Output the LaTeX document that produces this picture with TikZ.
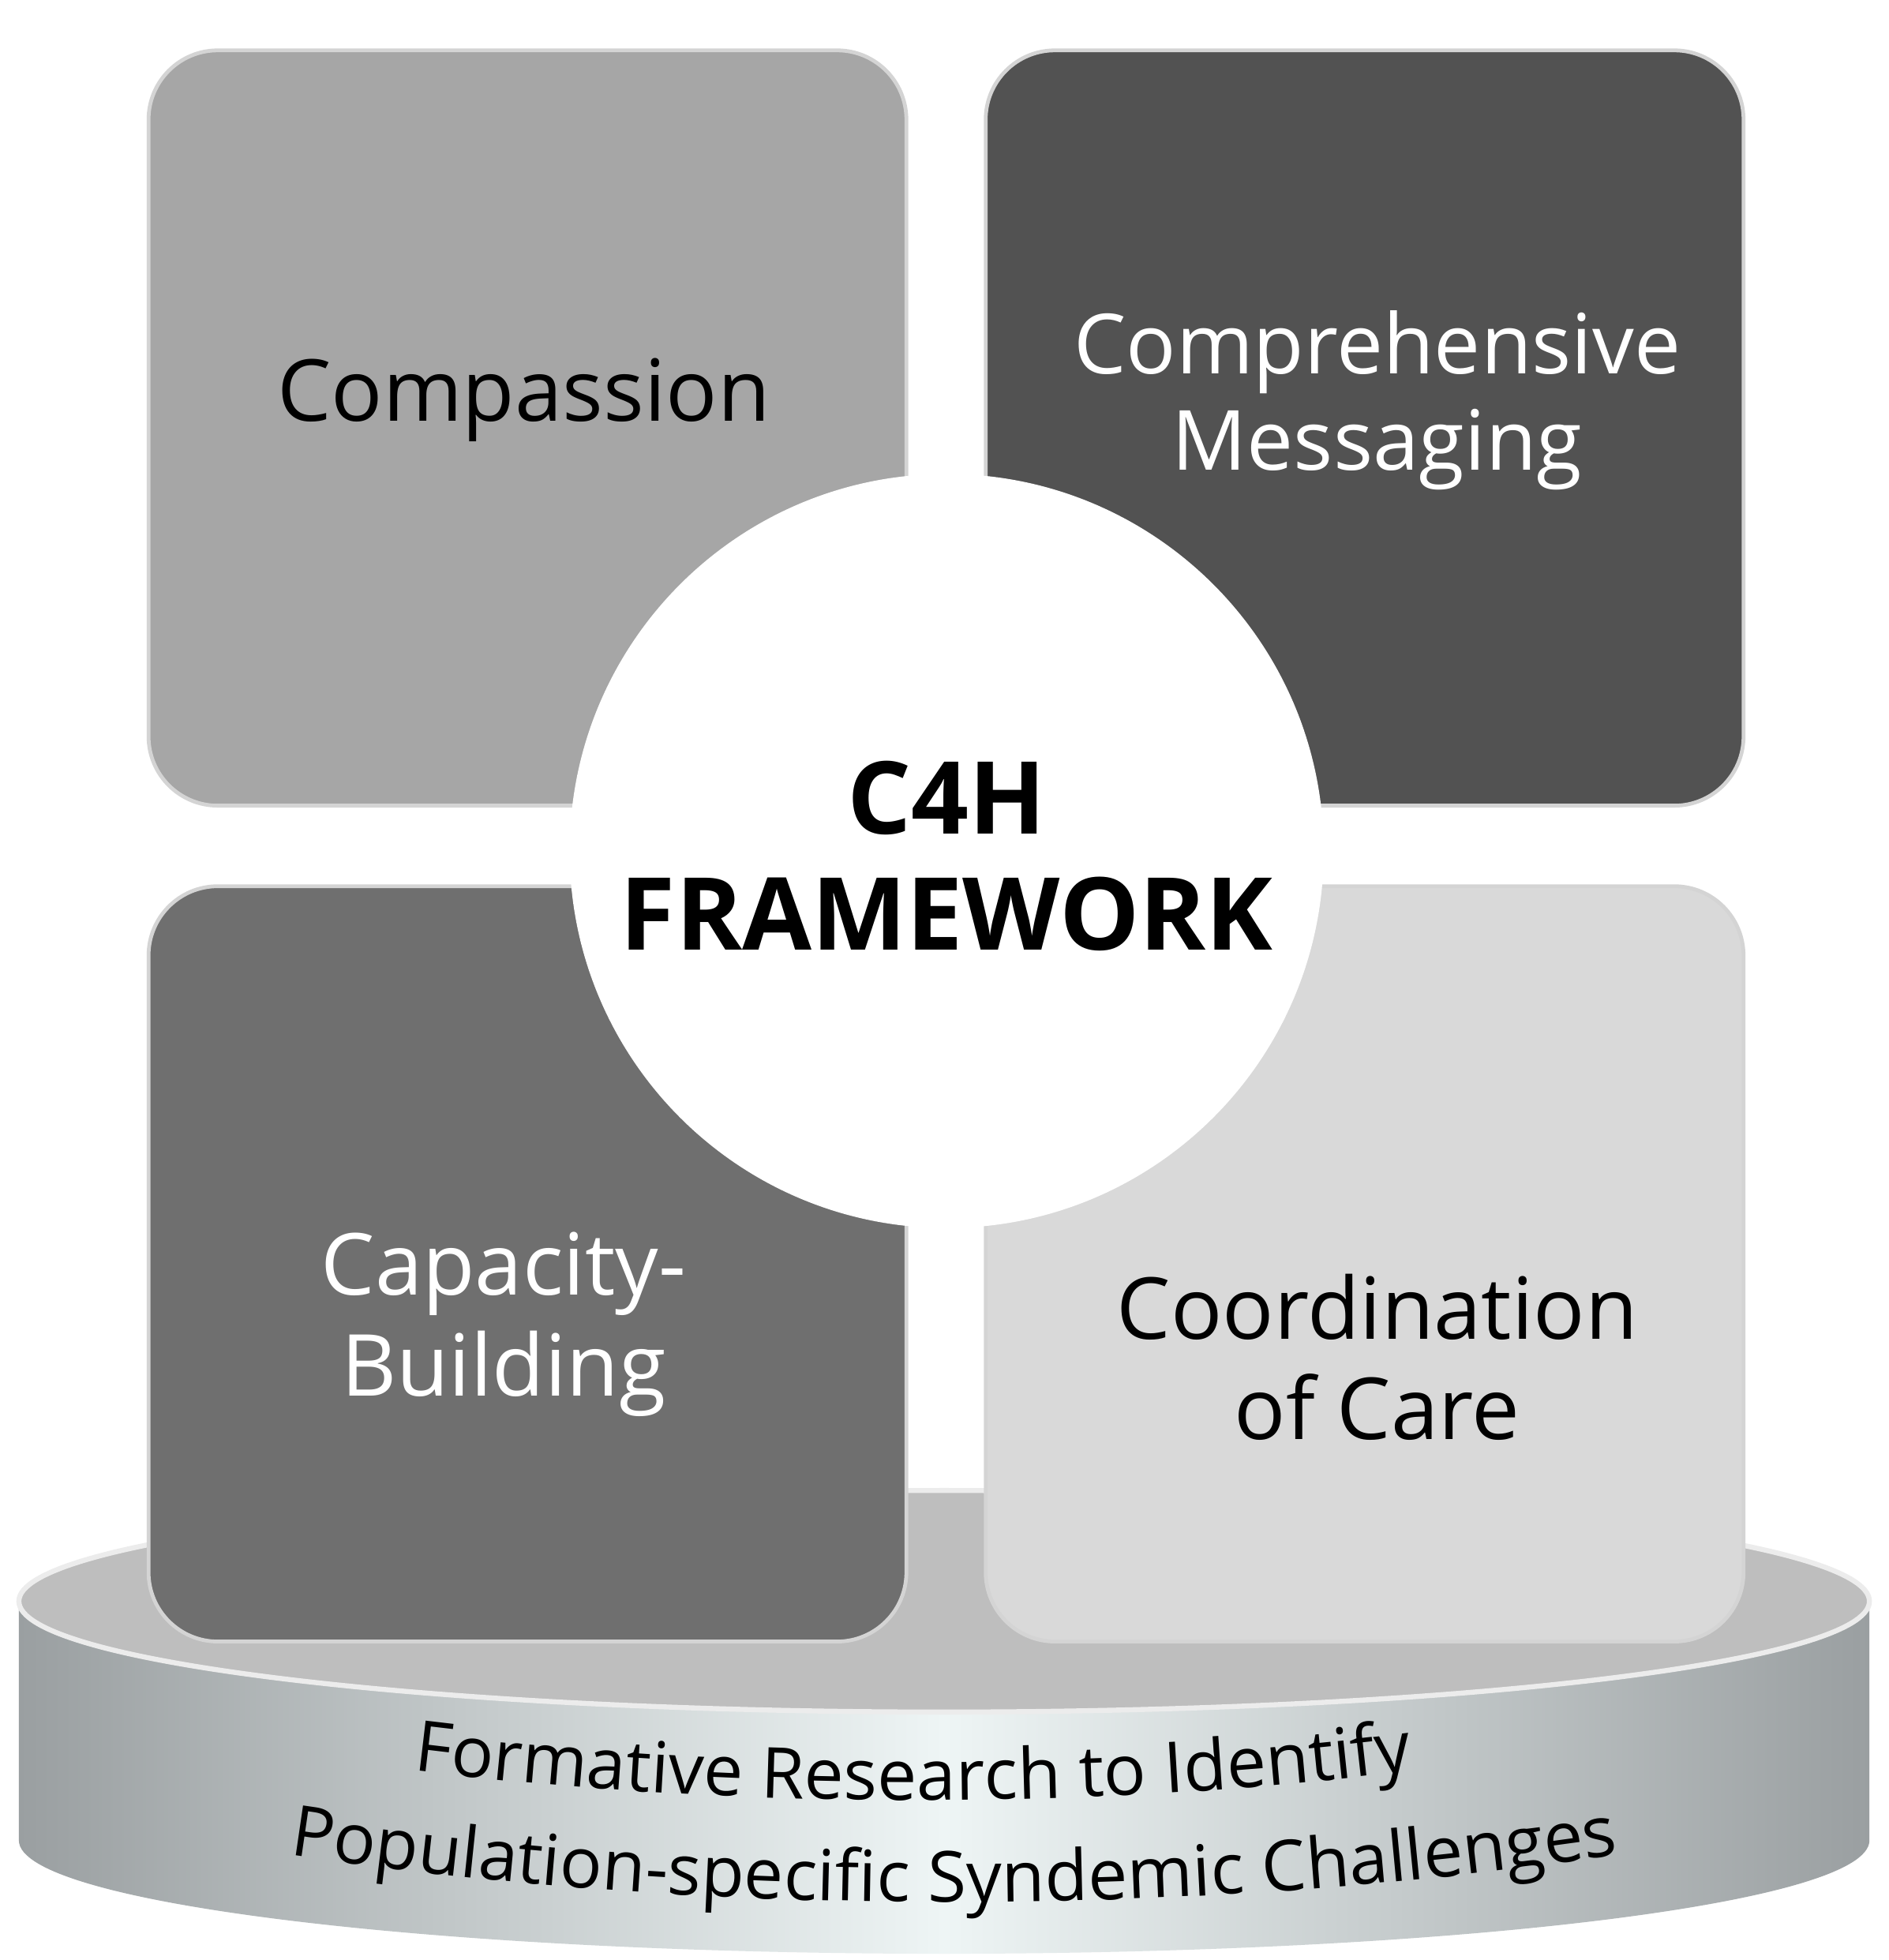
\documentclass[tikz,border=0pt]{standalone}
\usepackage{fontspec}
\setmainfont{Open Sans}
\usetikzlibrary{decorations.text}
\definecolor{qa}{HTML}{A6A6A6}
\definecolor{qb}{HTML}{525252}
\definecolor{qc}{HTML}{6F6F6F}
\definecolor{qd}{HTML}{D9D9D9}
\definecolor{rim}{HTML}{D4D4D4}
\definecolor{sideE}{HTML}{9A9FA1}
\definecolor{sideM}{HTML}{EEF5F5}
\definecolor{topF}{HTML}{BEBEBE}
\begin{document}
\begin{tikzpicture}[x=1pt,y=-1pt,
  quad/.style={rounded corners=55pt,draw=rim,line width=3pt},
  lbl/.style={font=\fontsize{68}{80}\selectfont,align=center},
  curv/.style={decorate,decoration={text along path,text align=center,text={#1}}}]
\useasboundingbox (0,0) rectangle (1500,1557);
\fill[white] (0,0) rectangle (1500,1557);
% base cylinder
\path[left color=sideE,right color=sideE,middle color=sideM]
  (15,1272) -- (15,1462) arc[start angle=180,end angle=0,x radius=735,y radius=90]
  -- (1485,1272) -- cycle;
\fill[topF,draw=white!85!gray,line width=4pt] (750,1272) ellipse[x radius=735,y radius=88];
% quadrants
\node[quad,fill=qa,minimum width=602pt,minimum height=600pt,inner sep=0pt] (tl) at (419,340) {};
\node[quad,fill=qb,minimum width=602pt,minimum height=600pt,inner sep=0pt] (tr) at (1084,340) {};
\node[quad,fill=qc,minimum width=602pt,minimum height=600pt,inner sep=0pt] (bl) at (419,1004) {};
\node[quad,fill=qd,minimum width=602pt,minimum height=600pt,inner sep=0pt] (br) at (1084,1004) {};
% center circle
\node[circle,fill=white,draw=white,line width=14pt,minimum size=585pt,inner sep=0pt] (c) at (752,676) {};
\node[font=\fontsize{80}{92}\selectfont\bfseries,align=center] (ct) at (752,680) {C4H\\FRAMEWORK};
\node[lbl] (t1) at (416,318) {Compassion};
\node[lbl,text=white,font=\fontsize{66}{76}\selectfont] (t2) at (1094,318) {Comprehensive\\Messaging};
\node[lbl,text=white] (t3) at (400,1052) {Capacity-\\Building};
\node[lbl] (t4) at (1094,1078) {Coordination\\of Care};
% curved base text
\path[curv={|\fontsize{56}{66}\selectfont|Formative Research to Identify}]
  (280,1400) .. controls (560,1440) and (900,1440) .. (1170,1400);
\path[curv={|\fontsize{56}{66}\selectfont|Population-specific Syndemic Challenges}]
  (150,1460) .. controls (520,1528) and (990,1528) .. (1365,1460);
\end{tikzpicture}
\end{document}
